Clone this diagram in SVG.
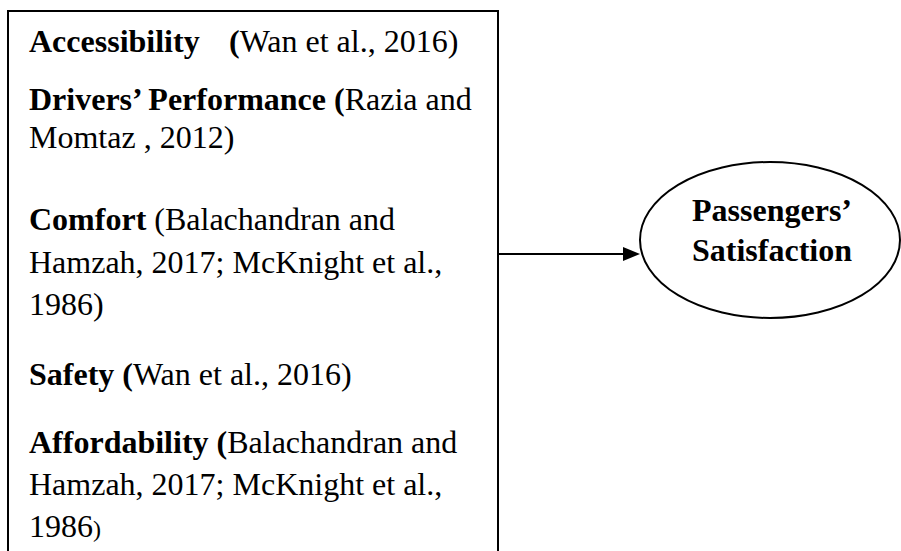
<svg xmlns="http://www.w3.org/2000/svg" width="901" height="551" viewBox="0 0 901 551">
<style>
text{font-family:"Liberation Serif","Times New Roman",serif;font-size:32px;fill:#000}
.b{font-weight:bold}
.shape{fill:#fff;stroke:#000;stroke-width:2}
</style>
<rect width="901" height="551" fill="#fff"/>
<g id="factors">
<rect class="shape" x="8" y="11" width="490" height="560"/>
<text x="29" y="52"><tspan class="b">Accessibility</tspan><tspan class="b" x="229">(</tspan><tspan>Wan et al., 2016)</tspan></text>
<text x="29" y="110"><tspan class="b">Drivers’ Performance (</tspan><tspan>Razia and</tspan></text>
<text x="29" y="148">Momtaz , 2012)</text>
<text x="29" y="230"><tspan class="b">Comfort</tspan><tspan> (Balachandran and</tspan></text>
<text x="29" y="273">Hamzah, 2017; McKnight et al.,</text>
<text x="29" y="315">1986)</text>
<text x="29" y="385"><tspan class="b">Safety (</tspan><tspan>Wan et al., 2016)</tspan></text>
<text x="29" y="453"><tspan class="b">Affordability (</tspan><tspan>Balachandran and</tspan></text>
<text x="29" y="495">Hamzah, 2017; McKnight et al.,</text>
<text x="29" y="537">1986<tspan style="font-size:24px">)</tspan></text>
</g>
<g id="connectors">
<line x1="498" y1="254" x2="625" y2="254" stroke="#000" stroke-width="2"/>
<polygon points="623,247 640,254 623,261" fill="#000"/>
</g>
<g id="satisfaction">
<ellipse class="shape" cx="770" cy="240" rx="130" ry="78"/>
<text class="b" x="772" y="221" text-anchor="middle">Passengers’</text>
<text class="b" x="772" y="261" text-anchor="middle">Satisfaction</text>
</g>
</svg>
